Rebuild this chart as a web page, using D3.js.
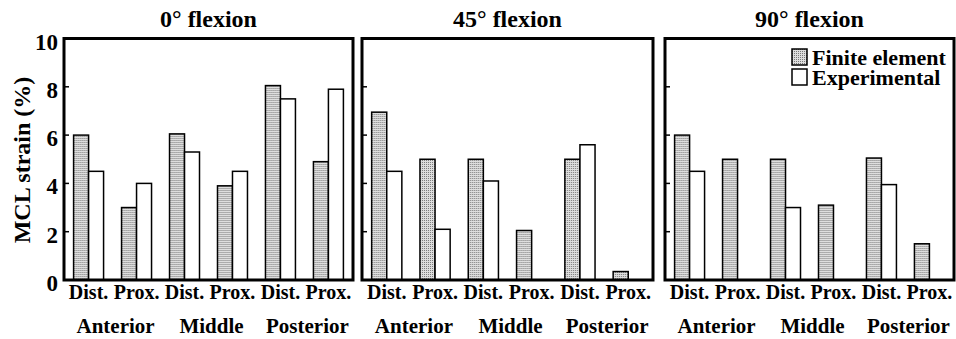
<!DOCTYPE html>
<html>
<head>
<meta charset="UTF-8"/>
<style>
  body { margin: 0; background: #fff; }
  text { font-family: "Liberation Serif", "Times New Roman", serif; font-weight: bold; fill: #000; }
</style>
</head>
<body>
<script src="https://cdn.jsdelivr.net/npm/d3@7"></script>
<script>
// chart values
var flexions = ["0° flexion", "45° flexion", "90° flexion"];
var positions = ["Dist.", "Prox.", "Dist.", "Prox.", "Dist.", "Prox."];
var regions = ["Anterior", "Middle", "Posterior"];
var seriesNames = ["Finite element", "Experimental"];
var feStrain = [
  [6.0, 3.0, 6.05, 3.9, 8.05, 4.9],
  [6.95, 5.0, 5.0, 2.05, 5.0, 0.35],
  [6.0, 5.0, 5.0, 3.1, 5.05, 1.5]
];
var expStrain = [
  [4.5, 4.0, 5.3, 4.5, 7.5, 7.9],
  [4.5, 2.1, 4.1, 0, 5.6, 0],
  [4.5, 0, 3.0, 0, 3.95, 0]
];
var yTicks = [0, 2, 4, 6, 8, 10];

var width = 956, height = 339;
var plotTop = 38.5, plotBottom = 280;
var panelLeft = [64, 362, 665];
var panelWidth = [289, 291, 289];

var svg = d3.select("body").append("svg")
    .attr("width", width)
    .attr("height", height);

// stippled grey fill for the finite element bars
var pat = svg.append("defs").append("pattern")
    .attr("id", "stipple")
    .attr("width", 2).attr("height", 2)
    .attr("patternUnits", "userSpaceOnUse");
pat.append("rect").attr("width", 2).attr("height", 2).attr("fill", "#dedede");
pat.append("rect").attr("width", 1).attr("height", 1).attr("fill", "#7a7a7a");

var yScale = d3.scaleLinear()
    .domain([0, 10])
    .range([plotBottom, plotTop]);

var fills = ["url(#stipple)", "#fff"];

flexions.forEach(function(title, p) {
  var g = svg.append("g")
      .attr("transform", "translate(" + panelLeft[p] + ",0)");
  var w = panelWidth[p];

  var xScale = d3.scaleBand()
      .domain(d3.range(positions.length))
      .range([0, w])
      .paddingInner(0.375)
      .paddingOuter(0.2);

  var xInner = d3.scaleBand()
      .domain([0, 1])
      .range([0, xScale.bandwidth()]);

  var rows = positions.map(function(pos, i) {
    return [feStrain[p][i], expStrain[p][i]];
  });

  var groups = g.selectAll("g.grp")
      .data(rows)
      .enter().append("g")
        .attr("class", "grp")
        .attr("transform", function(d, i) { return "translate(" + xScale(i) + ",0)"; });

  groups.selectAll("rect")
      .data(function(d) { return d.map(function(v, s) { return {v: v, s: s}; }).filter(function(e) { return e.v > 0; }); })
      .enter().append("rect")
        .attr("x", function(d) { return xInner(d.s); })
        .attr("width", xInner.bandwidth())
        .attr("y", function(d) { return yScale(d.v); })
        .attr("height", function(d) { return yScale(0) - yScale(d.v); })
        .attr("fill", function(d) { return fills[d.s]; })
        .attr("stroke", "#000")
        .attr("stroke-width", 1.5);

  // inward ticks on the left edge
  g.selectAll("line.tick")
      .data(yTicks.slice(1, -1))
      .enter().append("line")
        .attr("class", "tick")
        .attr("x1", 0).attr("x2", 5)
        .attr("y1", function(d) { return yScale(d); })
        .attr("y2", function(d) { return yScale(d); })
        .attr("stroke", "#000")
        .attr("stroke-width", 1.5);

  g.append("rect")
      .attr("x", 0).attr("y", plotTop)
      .attr("width", w).attr("height", plotBottom - plotTop)
      .attr("fill", "none")
      .attr("stroke", "#000")
      .attr("stroke-width", 3);

  g.append("text")
      .attr("x", w / 2).attr("y", 27)
      .attr("text-anchor", "middle")
      .attr("font-size", "24px")
      .text(title);

  g.selectAll("text.pos")
      .data(positions)
      .enter().append("text")
        .attr("class", "pos")
        .attr("x", function(d, i) { return xScale(i) + xScale.bandwidth() / 2; })
        .attr("y", 299)
        .attr("text-anchor", "middle")
        .attr("font-size", "20px")
        .text(function(d) { return d; });

  g.selectAll("text.region")
      .data(regions)
      .enter().append("text")
        .attr("class", "region")
        .attr("x", function(d, i) { return (xScale(2 * i) + xScale(2 * i + 1) + xScale.bandwidth()) / 2 + 3; })
        .attr("y", 333)
        .attr("text-anchor", "middle")
        .attr("font-size", "21px")
        .text(function(d) { return d; });
});

// y axis labels on the first panel
svg.selectAll("text.ylab")
    .data(yTicks)
    .enter().append("text")
      .attr("class", "ylab")
      .attr("x", 58)
      .attr("y", function(d) { return yScale(d) + 11; })
      .attr("text-anchor", "end")
      .attr("font-size", "23px")
      .text(function(d) { return d; });

svg.append("text")
    .attr("transform", "translate(30,160) rotate(-90)")
    .attr("text-anchor", "middle")
    .attr("font-size", "24px")
    .text("MCL strain (%)");

// legend
var legend = svg.append("g")
    .attr("transform", "translate(792,49)");
legend.selectAll("rect")
    .data(seriesNames)
    .enter().append("rect")
      .attr("x", 0)
      .attr("y", function(d, i) { return i * 20; })
      .attr("width", 15).attr("height", 16)
      .attr("fill", function(d, i) { return fills[i]; })
      .attr("stroke", "#000")
      .attr("stroke-width", 1.5);
legend.selectAll("text")
    .data(seriesNames)
    .enter().append("text")
      .attr("x", 20)
      .attr("y", function(d, i) { return 16 + i * 20; })
      .attr("font-size", "22px")
      .text(function(d) { return d; });
</script>
</body>
</html>
